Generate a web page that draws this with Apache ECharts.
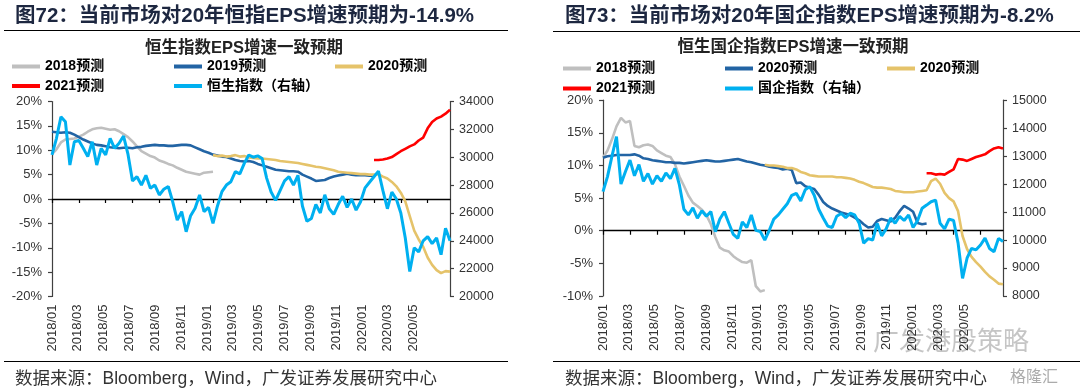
<!DOCTYPE html>
<html><head><meta charset="utf-8">
<script src="https://cdn.jsdelivr.net/npm/echarts/dist/echarts.min.js"></script>
<style>html,body{margin:0;padding:0;background:#fff}#c{width:1080px;height:392px}</style>
</head><body><div id="c"></div>
<script>
// ---------- categories (roughly 10-day steps) ----------
const dates = [
'2018-01-01','2018-01-11','2018-01-21','2018-02-01','2018-02-11','2018-02-21','2018-03-01','2018-03-11','2018-03-21',
'2018-04-01','2018-04-11','2018-04-21','2018-05-01','2018-05-11','2018-05-21','2018-06-01','2018-06-11','2018-06-21',
'2018-07-01','2018-07-11','2018-07-21','2018-08-01','2018-08-11','2018-08-21','2018-09-01','2018-09-11','2018-09-21',
'2018-10-01','2018-10-11','2018-10-21','2018-11-01','2018-11-11','2018-11-21','2018-12-01','2018-12-11','2018-12-21',
'2019-01-01','2019-01-11','2019-01-21','2019-02-01','2019-02-11','2019-02-21','2019-03-01','2019-03-11','2019-03-21',
'2019-04-01','2019-04-11','2019-04-21','2019-05-01','2019-05-11','2019-05-21','2019-06-01','2019-06-11','2019-06-21',
'2019-07-01','2019-07-11','2019-07-21','2019-08-01','2019-08-11','2019-08-21','2019-09-01','2019-09-11','2019-09-21',
'2019-10-01','2019-10-11','2019-10-21','2019-11-01','2019-11-11','2019-11-21','2019-12-01','2019-12-11','2019-12-21',
'2020-01-01','2020-01-11','2020-01-21','2020-02-01','2020-02-11','2020-02-21','2020-03-01','2020-03-11','2020-03-21',
'2020-04-01','2020-04-11','2020-04-21','2020-05-01','2020-05-11','2020-05-21','2020-06-01','2020-06-11','2020-06-21'];
const tickLabels = ['2018/01','2018/03','2018/05','2018/07','2018/09','2018/11','2019/01','2019/03','2019/05','2019/07','2019/09','2019/11','2020/01','2020/03','2020/05'];

// ---------- chart 1: Hang Seng Index ----------
const hsi = [30160,31360,32900,32550,29440,31110,31200,30640,30040,31110,
29440,30640,30160,31360,30640,31000,31520,30200,28300,28600,
28000,28700,27770,28000,27290,27700,27900,26800,25490,26090,
24650,25800,26330,27290,26100,26400,25250,26500,27530,28000,
28240,28960,28800,29560,30160,30000,30100,29900,28500,27500,
26900,27600,28300,28600,28000,28700,26500,25400,25600,26600,
26000,27300,26300,25900,26600,27200,26400,27000,26200,26800,
27800,28200,28600,29000,27600,26300,27500,27000,26000,24200,
21800,23500,23200,24000,24300,23800,24200,23000,24900,24000];
const hsiEps2018 = [9.2,10.2,11.6,12.2,12.3,12.4,12.8,13.2,13.8,14.3,14.5,14.6,14.4,14.2,14.3,13.9,13.3,12.7,11.8,10.8,
9.8,9.3,8.8,8.5,7.9,7.6,7.2,6.9,6.4,6.0,5.6,5.4,5.2,5.0,5.4,5.5,5.6];
const hsiEps2019 = [13.8,13.7,13.6,13.7,13.6,13.2,12.7,12.2,11.8,11.4,
11.1,11.0,10.8,10.6,10.5,10.4,10.5,10.5,10.4,10.6,
10.7,10.9,11.0,11.1,11.0,11.0,10.9,10.9,11.0,11.1,
11.1,11.0,10.6,10.2,9.8,9.5,9.1,8.9,8.7,8.6,
8.3,8.0,7.8,7.7,7.8,7.6,7.2,6.9,6.6,6.3,
6.0,5.9,5.8,5.7,5.7,5.6,5.0,4.6,4.2,3.7,
3.8,3.9,4.3,4.6,4.8,5.0,5.2,5.0,4.9,4.9,
4.9,4.8,4.8];
const hsiEps2020Start = 36;
const hsiEps2020 = [9.0,8.8,8.9,8.7,8.8,9.0,8.7,8.8,8.5,8.4,
8.3,8.3,8.2,8.1,8.0,7.8,7.7,7.6,7.5,7.4,
7.2,7.0,6.8,6.6,6.5,6.3,6.1,5.9,5.6,5.5,
5.4,5.3,5.2,5.1,5.1,5.0,5.0,5.1,4.6,4.2,
3.5,2.6,1.3,-0.5,-3.5,-6.5,-8.3,-9.8,-12.0,-13.5,
-14.6,-15.2,-14.8,-14.9];
const hsiEps2021Start = 72;
const hsiEps2021 = [8.0,8.0,8.1,8.3,8.6,9.2,9.8,10.3,10.8,11.2,12.0,12.6,14.5,15.8,16.5,16.9,17.5,18.3];

// ---------- chart 2: HSCEI ----------
const hscei = [11730,12270,13000,13700,12000,12450,12860,12300,12700,12100,
12380,12000,12300,12100,12400,12200,12560,11970,11100,10900,
11150,10780,11050,10850,11015,10300,10750,11015,10600,10200,
10060,10650,10450,10900,10350,10300,10000,10350,10750,10900,
11100,11300,11600,11670,11400,11800,11910,11600,11100,10790,
10500,10450,10850,10950,10800,10960,10900,10600,9890,10050,
10000,10600,10150,10400,10790,10600,10850,10700,10900,10450,
10700,11135,11250,11370,11430,10600,10400,10750,10700,9900,
8630,9350,9700,9650,9825,10070,9700,9580,10060,9950];
const hsceiEps2018 = [11.2,12.3,14.0,16.0,17.3,16.6,16.8,13.0,12.8,13.1,
13.2,13.0,12.3,11.9,11.5,11.3,10.2,8.3,6.9,5.4,
4.3,3.8,3.2,2.4,1.0,-1.0,-2.6,-3.0,-3.2,-3.9,
-4.4,-4.8,-4.9,-4.5,-8.5,-9.3,-9.1];
const hsceiEpsBlue = [11.2,11.4,11.5,11.6,11.6,11.6,11.6,11.7,11.5,11.1,
11.0,10.8,10.7,10.6,10.5,10.5,10.4,10.4,10.3,10.4,
10.5,10.6,10.7,10.8,10.7,10.6,10.6,10.7,10.8,10.9,
11.0,10.8,10.6,10.5,10.3,10.1,10.0,9.8,9.7,9.6,
9.4,9.5,9.3,7.3,7.4,6.8,6.6,6.4,5.5,4.4,
3.8,3.4,3.1,2.8,2.6,2.4,2.0,1.6,1.0,0.5,
0.6,1.5,1.8,1.6,1.4,2.0,3.0,3.8,3.4,2.9,
1.2,1.0,1.1];
const hsceiEps2020Start = 36;
const hsceiEps2020 = [10.1,10.0,10.0,9.9,9.8,9.6,9.6,9.4,9.0,8.8,
8.5,8.4,8.3,8.3,8.3,8.3,8.2,8.2,8.1,8.0,
7.8,7.5,7.3,7.0,6.7,6.6,6.6,6.5,6.4,6.1,
6.0,5.9,5.9,5.9,6.0,6.1,6.2,7.6,8.0,7.2,
5.8,5.0,4.5,3.0,-0.8,-2.8,-4.0,-4.8,-5.5,-6.3,
-7.0,-7.5,-8.1,-8.2];
const hsceiEps2021Start = 72;
const hsceiEps2021 = [8.8,8.8,8.6,8.7,8.6,9.0,9.4,11.0,10.9,10.7,11.0,11.3,11.5,11.7,12.2,12.6,12.8,12.6];

// ---------- styling ----------
const FONT = '"Liberation Sans","Noto Sans CJK SC",sans-serif';
const C_GRAY = '#BFBFBF', C_DBLUE = '#2264A4', C_GOLD = '#E5C36A', C_RED = '#FF0000', C_LBLUE = '#00B0F0';
const pad = (start, arr) => Array(start).fill(null).concat(arr);

function catAxis(grid, onZeroIdx) {
  return { type: 'category', gridIndex: grid, data: dates, boundaryGap: false, position: 'bottom',
    axisLine: { show: true, onZero: true, onZeroAxisIndex: onZeroIdx, lineStyle: { color: '#000', width: 1.3 } },
    axisTick: { show: true, length: 4, lineStyle: { color: '#000', width: 1.2 },
      interval: (i, v) => v.slice(8) === '01' && (+v.slice(5, 7)) % 2 === 1 },
    axisLabel: { show: false }, splitLine: { show: false } };
}
function labelAxis(grid, max) {
  return { type: 'value', gridIndex: grid, min: 0, max: max, interval: 2, position: 'bottom',
    axisLine: { show: false, onZero: false }, axisTick: { show: false }, splitLine: { show: false },
    axisLabel: { rotate: 90, margin: 8, fontSize: 13, color: '#333', fontFamily: FONT, showMaxLabel: false, showMinLabel: true,
      formatter: v => (Math.abs(v % 2) < 1e-6 && v / 2 < tickLabels.length) ? tickLabels[Math.round(v / 2)] : '' } };
}
function yAxis(grid, pos, min, max, interval, fmt, fs, margin) {
  return { type: 'value', gridIndex: grid, position: pos, min, max, interval,
    axisLine: { show: true, onZero: false, lineStyle: { color: '#404040', width: 1.2 } },
    axisTick: { show: true, length: 4, lineStyle: { color: '#404040', width: 1.2 } },
    splitLine: { show: false },
    axisLabel: { formatter: fmt, fontSize: fs, color: '#333', fontFamily: FONT, margin } };
}
function line(name, xi, yi, data, color, width, z) {
  return { type: 'line', name, xAxisIndex: xi, yAxisIndex: yi, data, symbol: 'none', silent: true,
    connectNulls: false, animation: false, z, lineStyle: { color, width }, itemStyle: { color } };
}
function leg(name, color, left, cy) {
  return { left, top: cy - 8, padding: 0, icon: 'rect', itemWidth: 28, itemHeight: 4, selectedMode: false,
    textStyle: { fontSize: 14, fontWeight: 'bold', color: '#000', fontFamily: FONT, lineHeight: 16 },
    data: [{ name, itemStyle: { color } }] };
}
function txt(text, x, y, size, opts) {
  return Object.assign({ type: 'text', silent: true, style: Object.assign({ text, x, y, fontSize: size, fontFamily: FONT,
    fill: '#000', align: 'left', verticalAlign: 'middle' }, opts || {}) });
}
function hline(x1, x2, y) {
  return { type: 'line', silent: true, shape: { x1, y1: y, x2, y2: y }, style: { stroke: '#000', lineWidth: 1.2 } };
}
const pct = v => v + '%';
const plain = v => String(v);

const option = {
  animation: false,
  backgroundColor: '#fff',
  grid: [
    { left: 52, top: 101.5, width: 398, height: 195 },
    { left: 603, top: 100.2, width: 400, height: 195.8 }
  ],
  xAxis: [catAxis(0, 0), labelAxis(0, 30.82), catAxis(1, 2), labelAxis(1, 31.0)],
  yAxis: [
    yAxis(0, 'left', -20, 20, 5, pct, 13, 10),
    yAxis(0, 'right', 20000, 34000, 2000, plain, 12.5, 9),
    yAxis(1, 'left', -10, 20, 5, pct, 13, 10),
    yAxis(1, 'right', 8000, 15000, 1000, plain, 12.5, 9)
  ],
  legend: [
    leg('2018预测', C_GRAY, 12, 66.5), leg('2019预测', C_DBLUE, 174, 66.5), leg('2020预测', C_GOLD, 335, 66.5),
    leg('2021预测', C_RED, 12, 86), leg('恒生指数（右轴）', C_LBLUE, 174, 86),
    leg('2018预测', C_GRAY, 563, 68.5), leg('2020预测', C_DBLUE, 725, 68.5), leg('2020预测', C_GOLD, 887, 68.5),
    leg('2021预测', C_RED, 563, 88.5), leg('国企指数（右轴）', C_LBLUE, 725, 88.5)
  ],
  series: [
    line('2018预测', 0, 0, hsiEps2018, C_GRAY, 2.6, 2),
    line('2019预测', 0, 0, hsiEps2019, C_DBLUE, 2.6, 3),
    line('2020预测', 0, 0, pad(hsiEps2020Start, hsiEps2020), C_GOLD, 2.6, 4),
    line('2021预测', 0, 0, pad(hsiEps2021Start, hsiEps2021), C_RED, 2.6, 5),
    line('恒生指数（右轴）', 0, 1, hsi, C_LBLUE, 3, 6),
    line('2018预测', 2, 2, hsceiEps2018, C_GRAY, 2.6, 2),
    line('2020预测', 2, 2, hsceiEpsBlue, C_DBLUE, 2.6, 3),
    line('2020预测', 2, 2, pad(hsceiEps2020Start, hsceiEps2020), C_GOLD, 2.6, 4),
    line('2021预测', 2, 2, pad(hsceiEps2021Start, hsceiEps2021), C_RED, 2.6, 5),
    line('国企指数（右轴）', 2, 3, hscei, C_LBLUE, 3, 6)
  ],
  graphic: [
    txt('图72：当前市场对20年恒指EPS增速预期为-14.9%', 15, 16, 20.5, { fontWeight: 'bold', fill: '#1d2740' }),
    txt('图73：当前市场对20年国企指数EPS增速预期为-8.2%', 565, 16, 20.5, { fontWeight: 'bold', fill: '#1d2740' }),
    hline(4, 508, 30.5), hline(553, 1080, 31.5),
    txt('恒生指数EPS增速一致预期', 244, 48, 16.5, { fontWeight: 'bold', fill: '#222', align: 'center' }),
    txt('恒生国企指数EPS增速一致预期', 793, 47, 16.5, { fontWeight: 'bold', fill: '#222', align: 'center' }),
    hline(4, 508, 361.5), hline(553, 1080, 361.5),
    txt('数据来源：Bloomberg，Wind，广发证券发展研究中心', 15, 379, 17.5, { fill: '#333' }),
    txt('数据来源：Bloomberg，Wind，广发证券发展研究中心', 565, 379, 17.5, { fill: '#333' }),
    txt('广发港股策略', 873, 343, 26, { fill: 'rgba(150,150,150,0.55)' }),
    txt('格隆汇', 1010, 378, 16, { fill: 'rgba(150,150,150,0.8)' })
  ]
};
const chart = echarts.init(document.getElementById('c'), null, { renderer: 'canvas' });
chart.setOption(option);
</script></body></html>
